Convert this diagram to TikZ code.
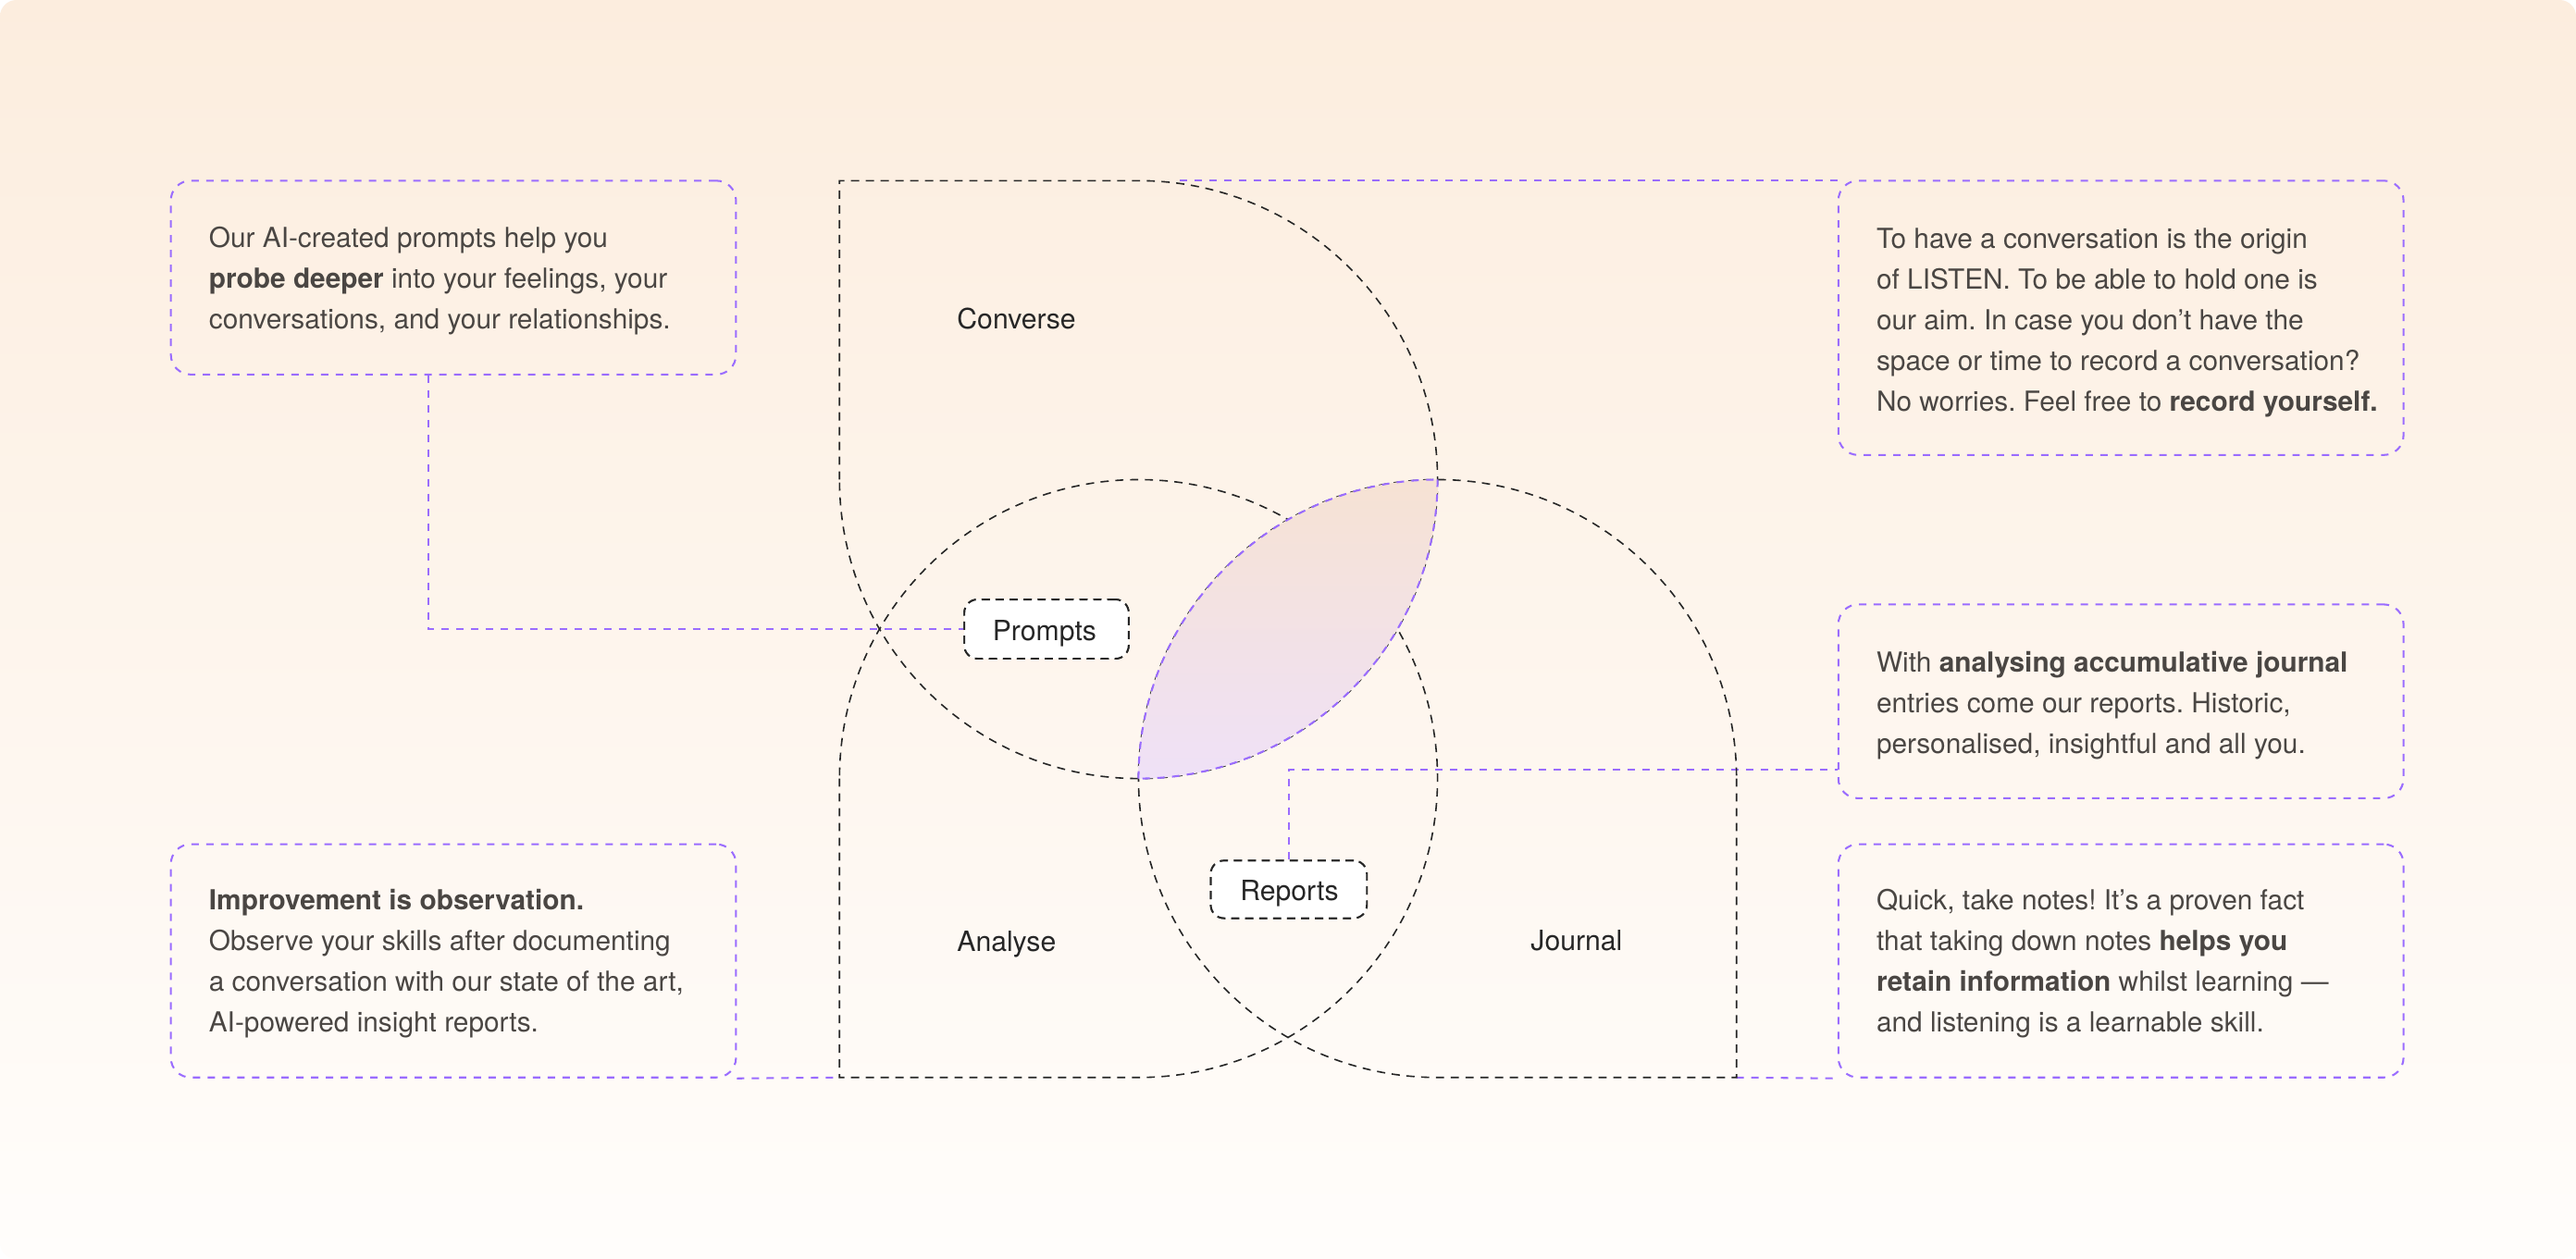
\documentclass[tikz,border=0pt]{standalone}
\usepackage{fontspec}
\setmainfont{TeX Gyre Heros}
\usetikzlibrary{calc}
\definecolor{bgtop}{HTML}{FCEDDE}
\definecolor{bgmid}{HTML}{FDF5EE}
\definecolor{bgbot}{HTML}{FFFDFB}
\definecolor{vpurple}{HTML}{9A6CFF}
\definecolor{vink}{HTML}{262626}
\definecolor{txt}{HTML}{4A4643}
\definecolor{lenstop}{HTML}{F6E2D3}
\definecolor{lensbot}{HTML}{EFE1F7}
\frenchspacing
\begin{document}
\begin{tikzpicture}[x=1pt,y=-1pt,
  venn/.style={draw=vink, line width=0.9pt, dash pattern=on 5pt off 4pt},
  link/.style={draw=vpurple, line width=1.15pt, dash pattern=on 4.5pt off 4.5pt},
  infobox/.style={draw=vpurple, line width=1.15pt, dash pattern=on 4.5pt off 4.5pt, rounded corners=12pt, minimum width=344pt, inner sep=0pt},
  tagbox/.style={draw=vink, fill=white, line width=1.1pt, dash pattern=on 5pt off 3.5pt, rounded corners=8pt, inner sep=0pt},
  boxtext/.style={anchor=base west, inner sep=0pt, text=txt, font=\fontsize{16.8}{20}\selectfont},
  vlabel/.style={anchor=base west, inner sep=0pt, text=vink, font=\fontsize{17}{20}\selectfont},
]
\useasboundingbox (0,0) rectangle (1568,766.5);
\fill[white] (0,0) rectangle (1568,766.5);
\shade[top color=bgtop, middle color=bgmid, bottom color=bgbot, rounded corners=10pt] (0,0) rectangle (1568,766.5);

% info boxes
\node[infobox, minimum height=118pt] (tl) at (276,169) {};
\node[infobox, minimum height=167pt] (tr) at (1291,193.5) {};
\node[infobox, minimum height=118pt] (rm) at (1291,427) {};
\node[infobox, minimum height=142pt] (bl) at (276,585) {};
\node[infobox, minimum height=142pt] (br) at (1291,585) {};

% connector helper coordinates
\coordinate (pk) at (261,383);
\coordinate (rk) at (784.5,468.6);
\coordinate (ctop) at (718,110);
\coordinate (acorner) at (511,656);
\coordinate (jcorner) at (1057,656);

% tags
\node[tagbox, minimum width=100pt, minimum height=36pt] (prompts) at (637,383) {};
\node[tagbox, minimum width=95pt, minimum height=35pt] (reports) at (784.5,541.5) {};

% purple connectors
\draw[link] (tl.south -| pk) -- (pk) -- (prompts.west);
\draw[link] (reports.north) -- (reports.north |- rk) -- (rk -| rm.west);
\draw[link] (ctop) -- (ctop -| tr.west);
\draw[link] (bl.south east) -- (acorner);
\draw[link] (jcorner) -- (br.south west);

% venn shapes
\draw[venn] (511,292) -- (511,110) -- (693,110) arc[start angle=-90, end angle=180, radius=182];
\draw[venn] (511,474) -- (acorner) -- (693,656) arc[start angle=90, end angle=-180, radius=182];
\draw[venn] (1057,474) -- (jcorner) -- (875,656) arc[start angle=90, end angle=360, radius=182];

% lens
\begin{scope}
\clip (693,292) circle[radius=182];
\clip (875,474) circle[radius=182];
\shade[top color=lenstop, bottom color=lensbot] (693,292) rectangle (875,474);
\end{scope}
\draw[link] (875,292) arc[start angle=0, end angle=90, radius=182];
\draw[link] (693,474) arc[start angle=180, end angle=270, radius=182];

% redraw tags on top
\node[tagbox, minimum width=100pt, minimum height=36pt] (prompts2) at (prompts) {};
\node[tagbox, minimum width=95pt, minimum height=35pt] (reports2) at (reports) {};

% venn labels
\node[vlabel] (lconverse) at (582.4,200) {Converse};
\node[vlabel] (lanalyse) at (582.4,579) {Analyse};
\node[vlabel] (ljournal) at (931.6,578.5) {Journal};
\node[vlabel] (lprompts) at (604,389.8) {Prompts};
\node[vlabel] (lreports) at (754.7,548) {Reports};

% top-left text
\node[boxtext] (tl1) at (127,150.5) {Our AI-created prompts help you};
\node[boxtext] (tl2) at (127,175.3) {\textbf{probe deeper} into your feelings, your};
\node[boxtext] (tl3) at (127,200.1) {conversations, and your relationships.};

% top-right text
\node[boxtext] (tr1) at (1142,151) {To have a conversation is the origin};
\node[boxtext] (tr2) at (1142,175.8) {of LISTEN. To be able to hold one is};
\node[boxtext] (tr3) at (1142,200.6) {our aim. In case you don’t have the};
\node[boxtext] (tr4) at (1142,225.4) {space or time to record a conversation?};
\node[boxtext] (tr5) at (1142,250.2) {No worries. Feel free to \textbf{record yourself.}};

% right-middle text
\node[boxtext] (rm1) at (1142,409) {With \textbf{analysing accumulative journal}};
\node[boxtext] (rm2) at (1142,433.8) {entries come our reports. Historic,};
\node[boxtext] (rm3) at (1142,458.6) {personalised, insightful and all you.};

% bottom-left text
\node[boxtext] (bl1) at (127,554) {\textbf{Improvement is observation.}};
\node[boxtext] (bl2) at (127,578.8) {Observe your skills after documenting};
\node[boxtext] (bl3) at (127,603.6) {a conversation with our state of the art,};
\node[boxtext] (bl4) at (127,628.4) {AI-powered insight reports.};

% bottom-right text
\node[boxtext] (br1) at (1142,554) {Quick, take notes! It’s a proven fact};
\node[boxtext] (br2) at (1142,578.8) {that taking down notes \textbf{helps you}};
\node[boxtext] (br3) at (1142,603.6) {\textbf{retain information} whilst learning —};
\node[boxtext] (br4) at (1142,628.4) {and listening is a learnable skill.};
\end{tikzpicture}
\end{document}
